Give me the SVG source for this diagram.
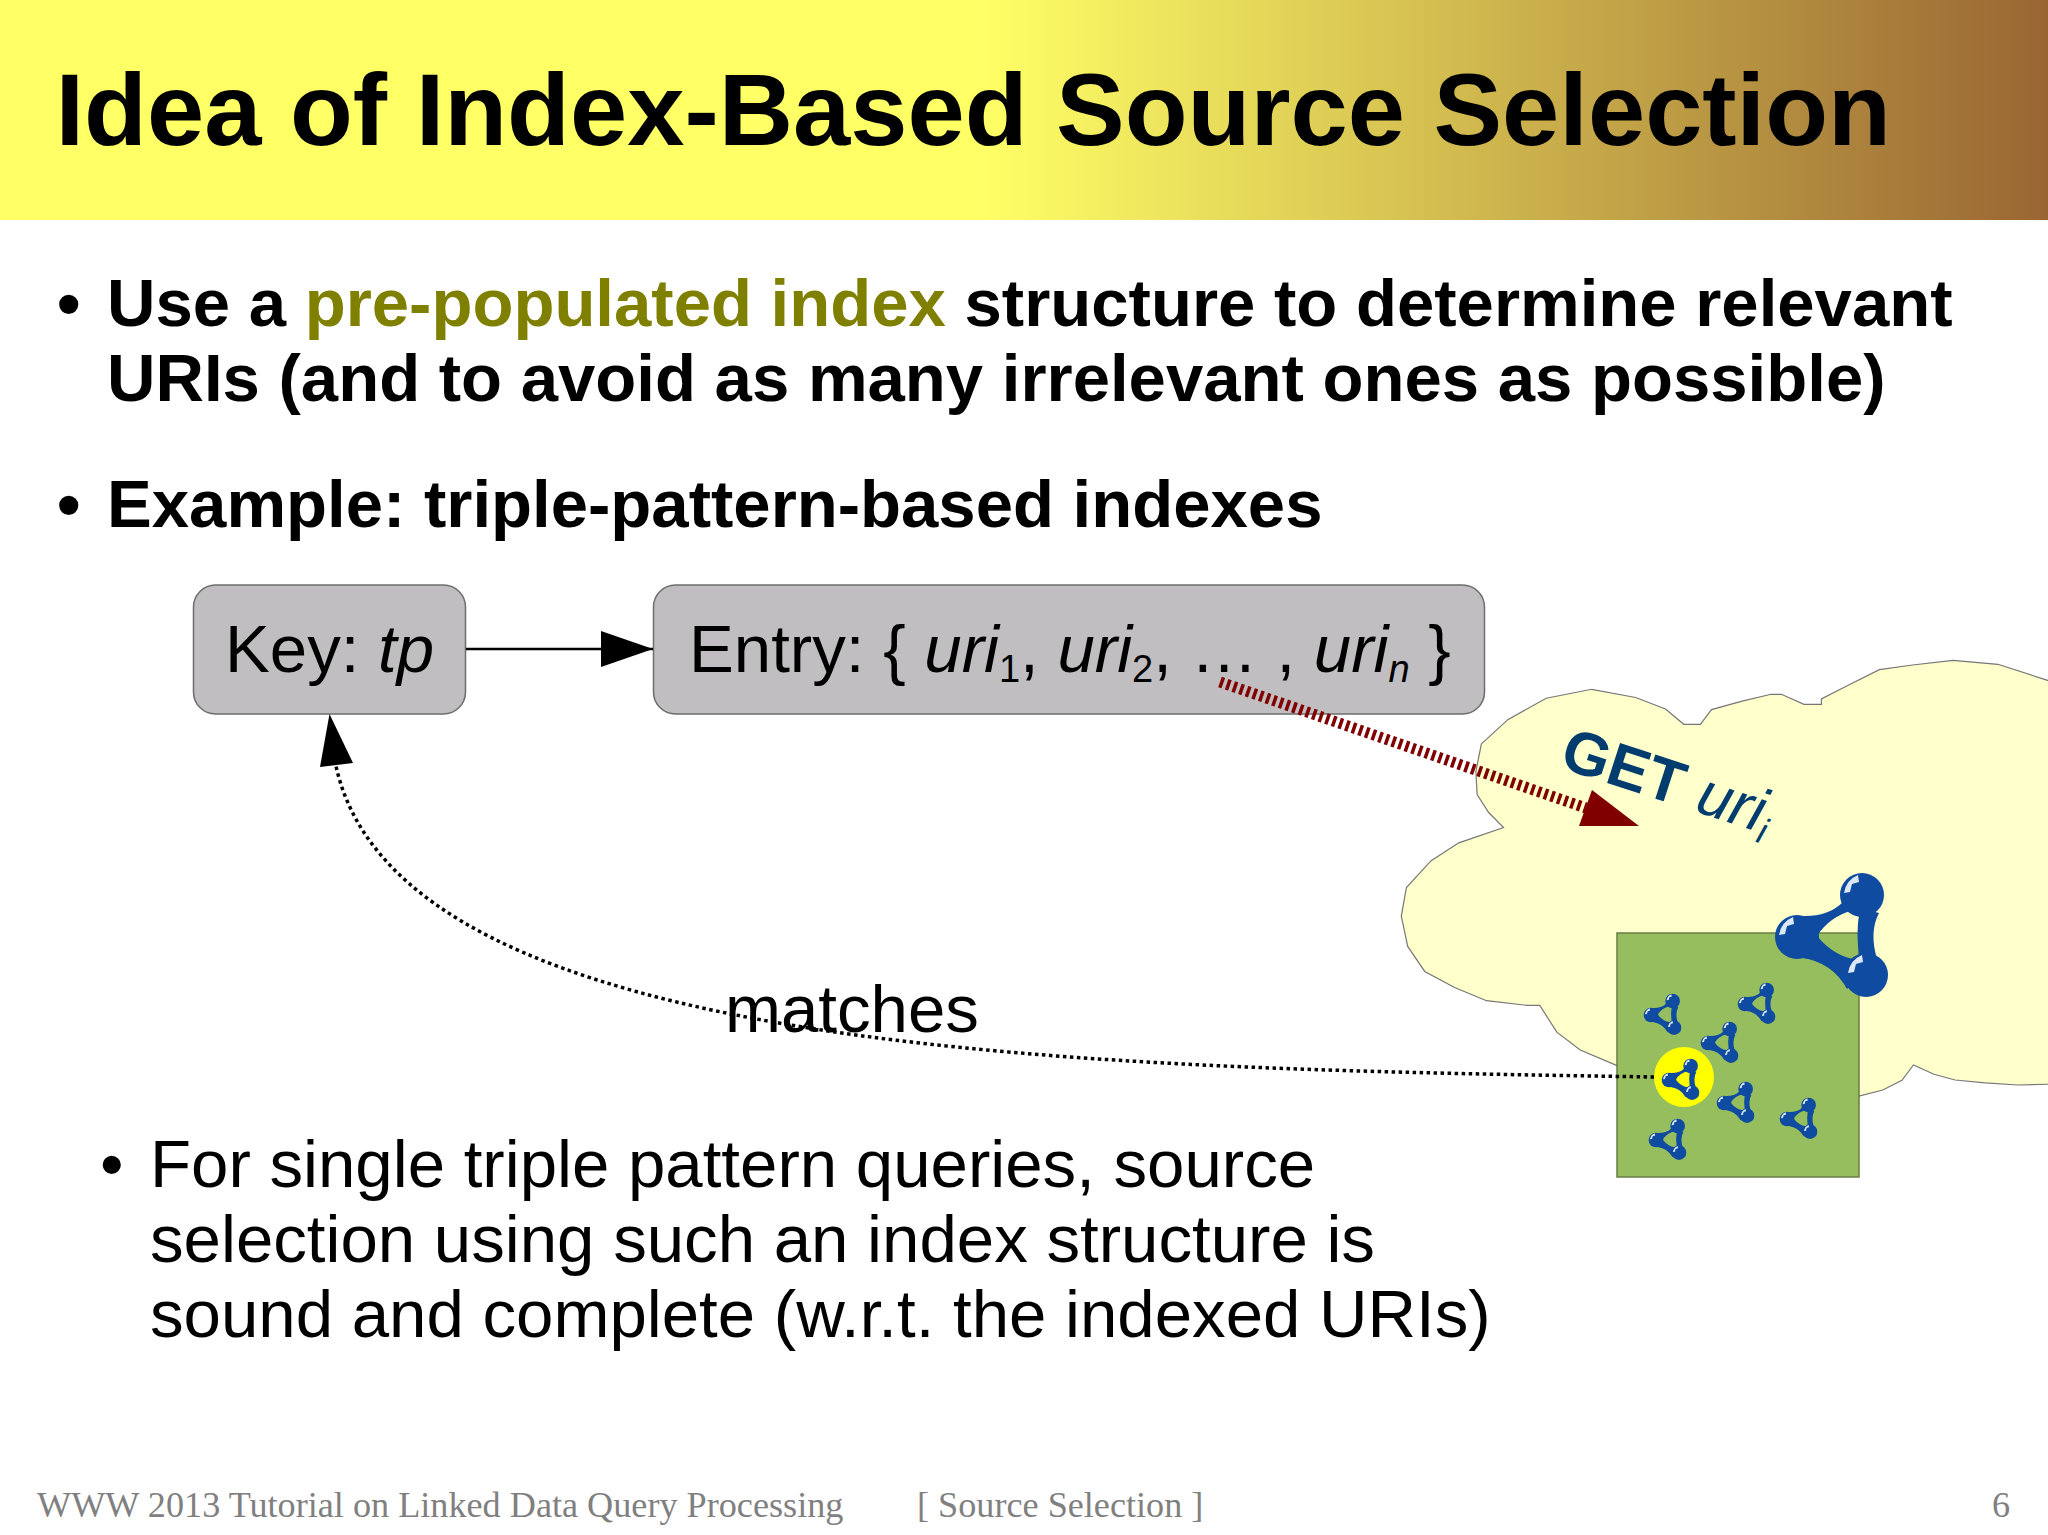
<svg xmlns="http://www.w3.org/2000/svg" xmlns:xlink="http://www.w3.org/1999/xlink" width="2048" height="1535" viewBox="0 0 2048 1535">
<style>
text{font-family:"Liberation Sans",Arial,sans-serif;fill:#000}
.h{font-size:67.1px;font-weight:bold}
.n{font-size:67.2px}
.i{font-style:italic}
.f{font-family:"Liberation Serif","Times New Roman",serif;font-size:36.2px;fill:#808080}
.box{fill:#c0bec0;stroke:#6e6e6e;stroke-width:1.5}
.ball{fill:#0f4ba0}
.gl{fill:#dce8f8}
.get{fill:#003c6e}
</style>
<defs>
<linearGradient id="hg" x1="0" y1="0" x2="1" y2="0">
<stop offset="0" stop-color="#ffff66"/><stop offset="0.48" stop-color="#ffff66"/><stop offset="1" stop-color="#996633"/>
</linearGradient>
<marker id="ah" markerUnits="userSpaceOnUse" markerWidth="54" markerHeight="36" refX="52" refY="18" orient="auto"><path d="M0 0L52 18L0 36Z" fill="#000"/></marker>
<path id="hl" d="M-18-2Q-16-15-4-20L-3-13L-10-11L-12-3Z" class="gl"/>
<g id="mol">
<path fill-rule="evenodd" class="ball" d="M5-21Q30-20 45-34L82-24Q72-5 80 22L50 52Q35 25 5 21ZM20-1Q32-20 56-27Q62-27 62-22Q59-4 62 18Q62 22 56 22Q36 18 20-1Z"/>
<circle r="22" class="ball"/><use xlink:href="#hl" href="#hl"/>
<g transform="translate(65,-42)"><circle r="22" class="ball"/><use xlink:href="#hl" href="#hl"/></g>
<g transform="translate(69,38)"><circle r="22" class="ball"/><use xlink:href="#hl" href="#hl"/></g>
</g>
</defs>
<rect width="2048" height="1535" fill="#fff"/>
<g id="header">
<rect width="2048" height="220" fill="url(#hg)"/>
<text x="55.500" y="145" font-size="102.900" font-weight="bold">Idea of Index-Based Source Selection</text>
</g>
<g id="bullets-top">
<text x="57" y="326" class="h">•</text>
<text x="107" y="326" class="h">Use a <tspan fill="#808000">pre-populated index</tspan> structure to determine relevant</text>
<text x="107" y="401" class="h">URIs (and to avoid as many irrelevant ones as possible)</text>
<text x="57" y="527" class="h">•</text>
<text x="107" y="527" class="h">Example: triple-pattern-based indexes</text>
</g>
<g id="cloud">
<polygon transform="translate(1380,650) scale(.42608,.35714)" fill="#ffffcc" stroke="#777" stroke-width="1.2" vector-effect="non-scaling-stroke" points="238,263 300,195 390,135 497,110 600,133 670,165 713,208 752,208 778,167 850,143 918,124 942,124 995,152 1036,152 1036,137 1100,98 1172,55 1250,42 1345,29 1450,40 1567,85 1600,100 1600,1215 1497,1218 1420,1212 1350,1204 1300,1188 1252,1162 1225,1205 1180,1232 1122,1250 800,1300 555,1163 470,1120 415,1070 375,995 345,995 250,982 175,945 105,900 65,830 50,745 62,665 120,590 185,540 290,497 255,455 228,405 225,340"/>
<text transform="translate(1558,767) rotate(18)" font-size="61"><tspan font-weight="bold" class="get">GET</tspan><tspan class="i get"> uri</tspan><tspan class="i get" font-size="36" dy="10">i</tspan></text>
</g>
<g id="store">
<rect x="1617" y="933" width="242" height="244" fill="#97be5e" stroke="#667f45" stroke-width="1.5"/>
<circle cx="1684" cy="1077" r="30" fill="#ffff00"/>
<use xlink:href="#mol" href="#mol" transform="translate(1797,937)"/>
<use xlink:href="#mol" href="#mol" transform="translate(1651,1015) scale(.333)"/>
<use xlink:href="#mol" href="#mol" transform="translate(1745,1004) scale(.333)"/>
<use xlink:href="#mol" href="#mol" transform="translate(1708,1043) scale(.333)"/>
<use xlink:href="#mol" href="#mol" transform="translate(1669,1080) scale(.333)"/>
<use xlink:href="#mol" href="#mol" transform="translate(1724,1103) scale(.333)"/>
<use xlink:href="#mol" href="#mol" transform="translate(1787,1119) scale(.333)"/>
<use xlink:href="#mol" href="#mol" transform="translate(1656,1140) scale(.333)"/>
</g>
<g id="key">
<rect x="193.500" y="585" width="272" height="129" rx="22" class="box"/>
<text x="225" y="672" class="n">Key: <tspan class="i">tp</tspan></text>
</g>
<g id="entry">
<rect x="653.500" y="585" width="831" height="129" rx="22" class="box"/>
<text x="689" y="672" class="n">Entry: { <tspan class="i">uri</tspan><tspan font-size="38" dy="10">1</tspan><tspan dy="-10">, </tspan><tspan class="i">uri</tspan><tspan font-size="38" dy="10">2</tspan><tspan dy="-10">, … , </tspan><tspan class="i">uri</tspan><tspan class="i" font-size="38" dy="10">n</tspan><tspan dy="-10"> }</tspan></text>
</g>
<g id="connectors" fill="none">
<path d="M466 649H653" stroke="#000" stroke-width="2.500" marker-end="url(#ah)"/>
<path d="M1654 1077C1100 1068 400 1060 336 766" stroke="#000" stroke-width="3.500" stroke-dasharray="3.500 3.500"/>
<path d="M353 763L329.500 714L320 767Z" fill="#000"/>
<path d="M1220 682L1586 808" stroke="#800000" stroke-width="11" stroke-dasharray="3.500 3.500"/>
<path d="M1592 790L1579 826H1639Z" fill="#800000"/>
</g>
<g id="matches-label"><text x="725" y="1032" class="n">matches</text></g>
<g id="bullets-bottom">
<text x="100" y="1187" class="n">•</text>
<text x="150" y="1187" class="n">For single triple pattern queries, source</text>
<text x="150" y="1262" class="n">selection using such an index structure is</text>
<text x="150" y="1337" class="n">sound and complete (w.r.t. the indexed URIs)</text>
</g>
<g id="footer">
<text x="37" y="1517" class="f">WWW 2013 Tutorial on Linked Data Query Processing</text>
<text x="917" y="1517" class="f">[ Source Selection ]</text>
<text x="1992" y="1517" class="f">6</text>
</g>
</svg>
